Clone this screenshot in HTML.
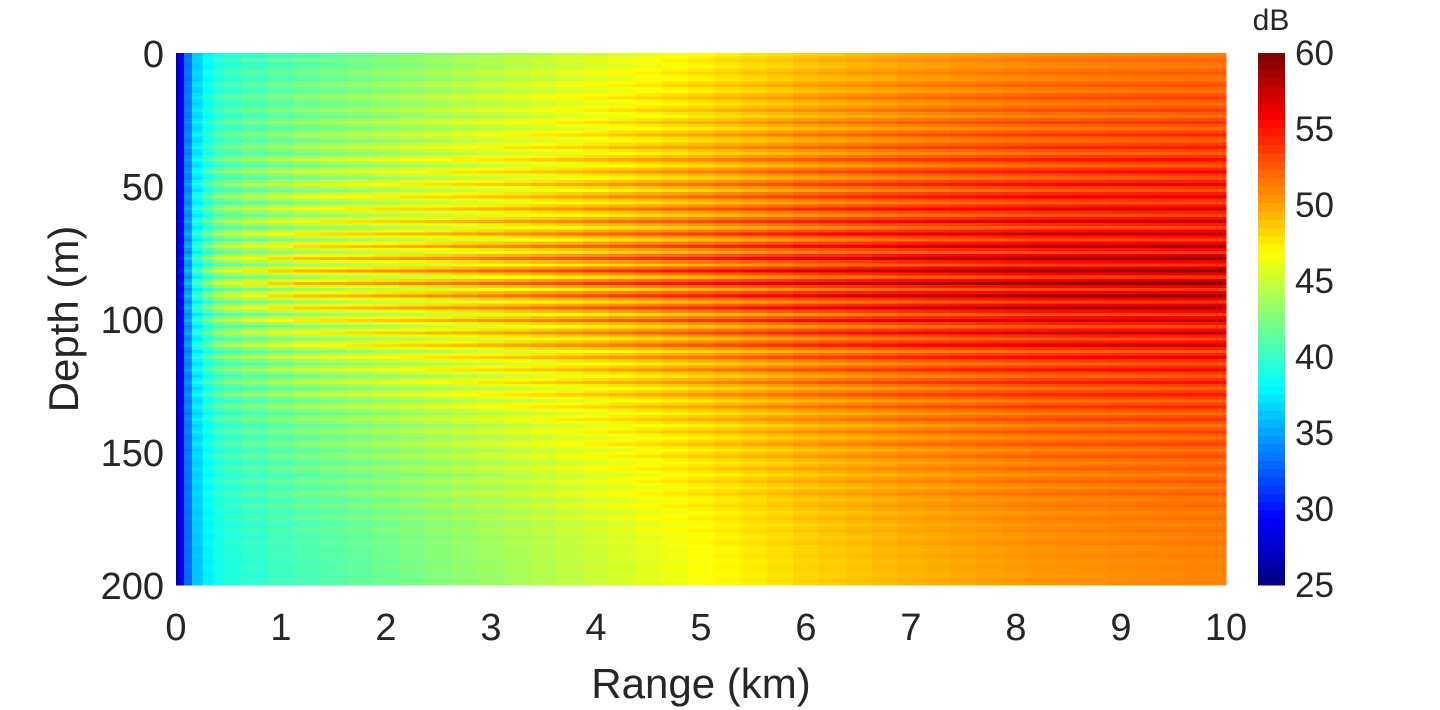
<!DOCTYPE html>
<html><head><meta charset="utf-8"><style>
body{margin:0;background:#fff;width:1440px;height:710px;overflow:hidden}
svg{display:block}
text{font-family:"Liberation Sans",Arial,sans-serif;fill:#262626}
</style></head><body>
<svg id="chart" width="1440" height="710">
<g id="cells" shape-rendering="crispEdges"></g>
<g id="cbar" shape-rendering="crispEdges"></g>
<g id="xt"></g>
<g id="yt"></g>
<g id="ct"></g>
<text x="701" y="698" font-size="42" text-anchor="middle">Range (km)</text>
<text x="78" y="319" font-size="42" text-anchor="middle" transform="rotate(-90 78 319)">Depth (m)</text>
<text x="1271" y="30" font-size="30" text-anchor="middle">dB</text>
</svg>
<script>
const rangeKm=[0,0.05,0.1,0.2,0.3,0.4,0.5,0.75,1,1.25,1.5,1.75,2,2.25,2.5,2.75,3,3.25,3.5,3.75,4,4.25,4.5,4.75,5,5.25,5.5,5.75,6,6.25,6.5,6.75,7,7.25,7.5,7.75,8,8.25,8.5,8.75,9,9.25,9.5,9.75,10];
const troughDb=[26,29,33,36,37.5,38.5,39,39.5,40,40.4,40.8,41.2,41.6,42,42.4,42.8,43.2,43.6,44,44.4,44.8,45.2,45.6,46,46.4,46.8,47.2,47.6,48,48.3,48.6,48.9,49.2,49.4,49.6,49.8,50,50.2,50.3,50.4,50.5,50.6,50.7,50.8,50.8];
const stripeAmpDb=[0,1,3,5,6,7,7.5,8,8.5,9,9,9,9,9,9,9,9,9,9,9,9,9,9,9,9,9,9,9,9,9,9,9,9,9,9,9,9,9,9,9,9,9,9,9,9];
const stripeGain=[0.15,0.2,0.25,0.3,0.3,0.35,0.4,0.45,0.5,0.55,0.6,0.65,0.7,0.75,0.8,0.85,0.95,1,1,0.95,0.9,0.8,0.75,0.7,0.6,0.55,0.5,0.45,0.4,0.35,0.3,0.28,0.25,0.22,0.2,0.18,0.15,0.12,0.1,0.08,0.06,0.05,0.04];
const stripeShape=[0.35,0.7,1,0.6];
const xTicks=[0,1,2,3,4,5,6,7,8,9,10];
const yTicks=[0,50,100,150,200];
const cTicks=[25,30,35,40,45,50,55,60];

const NS="http://www.w3.org/2000/svg";
const X0=176,X1=1226,Y0=53,Y1=585,CMIN=25,CMAX=60;
const xs=v=>X0+(v/10)*(X1-X0);
const ys=v=>Y0+(v/200)*(Y1-Y0);
function jet(t){t=Math.max(0,Math.min(1,t));
 const f=x=>Math.round(255*Math.max(0,Math.min(1,x)));
 const r=f(Math.min(4*t-1.5,-4*t+4.5)),g=f(Math.min(4*t-0.5,-4*t+3.5)),b=f(Math.min(4*t+0.5,-4*t+2.5));
 return `rgb(${r},${g},${b})`;}
const col=v=>jet((v-CMIN)/(CMAX-CMIN));
const cells=document.getElementById('cells');
const nS=stripeGain.length, sub=stripeShape.length;
for(let i=0;i<rangeKm.length;i++){
 const lo=i==0?0:(rangeKm[i-1]+rangeKm[i])/2, hi=i==rangeKm.length-1?10:(rangeKm[i]+rangeKm[i+1])/2;
 const xa=xs(lo),xb=xs(hi);
 for(let s=0;s<nS;s++){
  for(let k=0;k<sub;k++){
   const d0=(s*sub+k)*200/(nS*sub), d1=(s*sub+k+1)*200/(nS*sub);
   const v=troughDb[i]+stripeAmpDb[i]*stripeGain[s]*stripeShape[k];
   const r=document.createElementNS(NS,'rect');
   r.setAttribute('x',xa.toFixed(2));r.setAttribute('y',ys(d0).toFixed(2));
   r.setAttribute('width',(xb-xa+0.6).toFixed(2));r.setAttribute('height',(ys(d1)-ys(d0)+0.6).toFixed(2));
   r.setAttribute('fill',col(v));
   
   
   cells.appendChild(r);
  }}}
const cb=document.getElementById('cbar');
const CB0=1258,CB1=1285;
const cy=v=>Y1-(v-CMIN)/(CMAX-CMIN)*(Y1-Y0);
for(let k=0;k<64;k++){
 const r=document.createElementNS(NS,'rect');
 const a=CMIN+k*(CMAX-CMIN)/64,b=CMIN+(k+1)*(CMAX-CMIN)/64;
 r.setAttribute('x',CB0);r.setAttribute('y',cy(b));r.setAttribute('width',CB1-CB0);r.setAttribute('height',cy(a)-cy(b)+0.5);
 r.setAttribute('fill',jet((k+0.5)/64));
 
 
 cb.appendChild(r);}
function txt(g,x,y,s,anchor,size){const t=document.createElementNS(NS,'text');
 t.setAttribute('x',x);t.setAttribute('y',y);t.setAttribute('text-anchor',anchor);t.setAttribute('font-size',size);t.textContent=s;g.appendChild(t);return t;}
const xt=document.getElementById('xt');
xTicks.forEach(v=>{const t=txt(xt,xs(v),640,v,'middle',38);
 
 });
const yt=document.getElementById('yt');
yTicks.forEach(v=>{const t=txt(yt,164,ys(v)+14,v,'end',38);
 
 });
const ct=document.getElementById('ct');
cTicks.forEach(v=>{const t=txt(ct,1295,cy(v)+12,v,'start',35);
 
 });
</script>
</body></html>
